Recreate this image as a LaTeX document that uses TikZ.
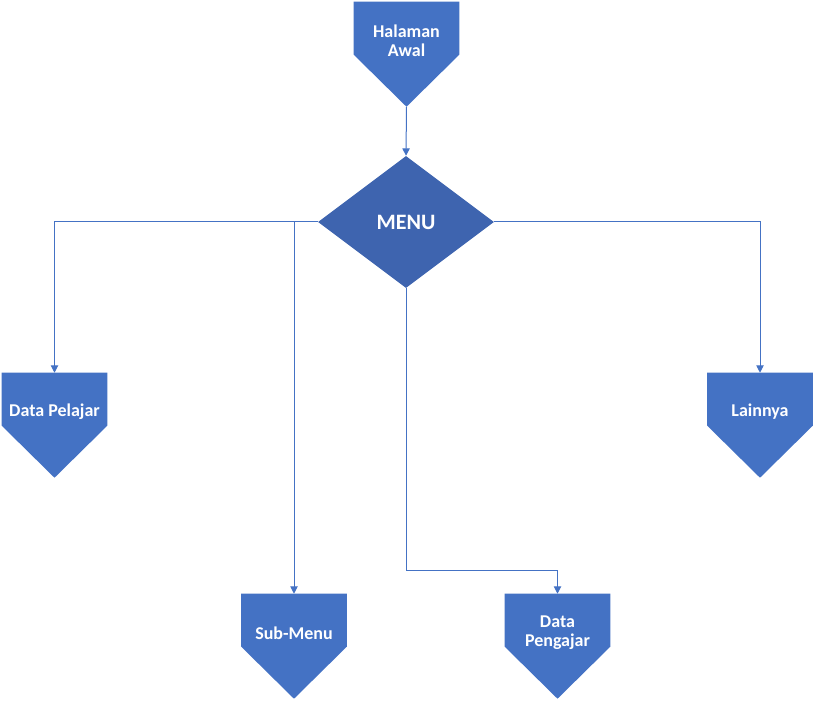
\documentclass[tikz,border=0pt]{standalone}
\usepackage{fontspec}
\setmainfont{Carlito}
\usetikzlibrary{shapes.geometric, positioning, calc, arrows.meta, backgrounds}
\definecolor{pageblue}{HTML}{4472C4}
\definecolor{menublue}{HTML}{3E64AF}
\newlength{\px}
\setlength\px{0.75pt}

\begin{document}
\begin{tikzpicture}[
    x = 0.75pt, y = -0.75pt, > = {Triangle[length = 5.5pt, width = 5.5pt]},
    page/.style = {
      rectangle, draw = none, text = white, align = center,
      font = \bfseries\fontsize{13.5}{14.5}\selectfont,
      minimum width = 105\px, minimum height = 78\px, inner sep = 0pt
    },
    choice/.style = {
      diamond, fill = menublue, text = white, inner sep = 0pt,
      minimum width = 176\px, minimum height = 132\px,
      font = \bfseries\fontsize{16.5}{18}\selectfont
    },
    link/.style = {
      ->, draw = pageblue, line width = 0.75pt
    },
    ]
\useasboundingbox (0, 0) rectangle (815, 702);

\node  [page]    (awal)      at (406.5, 41)  {Halaman\\Awal};
\node  [choice]  (menu)      at (406, 222)   {MENU};
\node  [page]    (pelajar)   at (54.5, 412)  {Data Pelajar};
\node  [page]    (submenu)   at (294, 633)   {Sub-Menu};
\node  [page]    (pengajar)  at (557.5, 633) {Data\\Pengajar};
\node  [page]    (lainnya)   at (760, 412)   {Lainnya};

% pointed lower half of each page shape
\begin{pgfonlayer}{background}
  \foreach \n in {awal, pelajar, submenu, pengajar, lainnya}
    \fill [pageblue] (\n.north west) -- (\n.north east) -- ++(0, 53)
      -- ($(\n.north) + (0, 105)$) -- ($(\n.north west) + (0, 53)$) -- cycle;
\end{pgfonlayer}
\coordinate (awal tip) at ($(awal.north) + (0, 105)$);

\draw  [link]  (awal tip)  --  (menu.north);
\draw  [link]  (menu.west)  -|  (pelajar.north);
\draw  [link]  (menu.west -| submenu.north)  --  (submenu.north);
\draw  [link]  (menu.south)  --  ++(0, 282)  -|  (pengajar.north);
\draw  [link]  (menu.east)  -|  (lainnya.north);

\end{tikzpicture}
\end{document}
